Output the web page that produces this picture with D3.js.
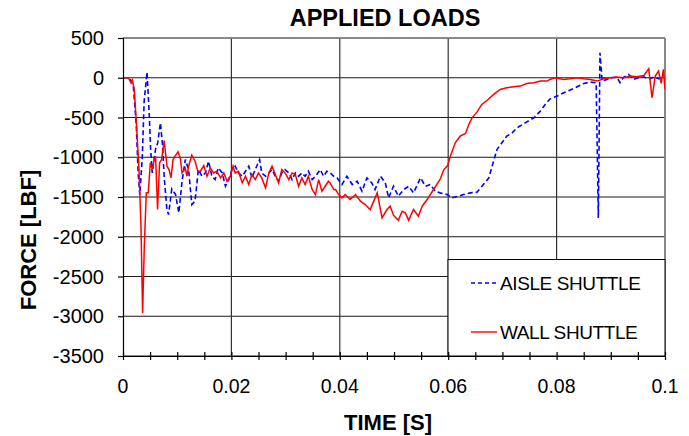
<!DOCTYPE html>
<html>
<head>
<meta charset="utf-8">
<script src="https://cdn.jsdelivr.net/npm/d3@7"></script>
<style>
  html, body { margin: 0; padding: 0; background: #fff; }
  svg { display: block; font-family: Arial, "Liberation Sans", sans-serif; }
</style>
</head>
<body>
<svg id="chart" width="689" height="436"></svg>
<script>
// ---- Data (time in s, force in lbf) ----
const xTicks = [0, 0.02, 0.04, 0.06, 0.08, 0.1];
const xTickLabels = ["0", "0.02", "0.04", "0.06", "0.08", "0.1"];
const yTicks = [500, 0, -500, -1000, -1500, -2000, -2500, -3000, -3500];
const yTickLabels = ["500", "0", "-500", "-1000", "-1500", "-2000", "-2500", "-3000", "-3500"];
const seriesNames = ["AISLE SHUTTLE", "WALL SHUTTLE"];

const aisleTime = [0, 0.0012, 0.00135, 0.0019, 0.00245, 0.0028, 0.0031, 0.00356, 0.0039, 0.00443, 0.0048, 0.0051, 0.0054, 0.0060, 0.0064, 0.0069, 0.0073, 0.0076, 0.0081, 0.0084, 0.0090, 0.0097, 0.0103, 0.0109, 0.0115, 0.0121, 0.0127, 0.0133, 0.0139, 0.0146, 0.0152, 0.0158, 0.0164, 0.0170, 0.0176, 0.0183, 0.0189, 0.0195, 0.0201, 0.0207, 0.0213, 0.0220, 0.0226, 0.0232, 0.0238, 0.0244, 0.0252, 0.0256, 0.0263, 0.0269, 0.0275, 0.0281, 0.0287, 0.0293, 0.0299, 0.0306, 0.0312, 0.0318, 0.0324, 0.0330, 0.0336, 0.0342, 0.0349, 0.0355, 0.0364, 0.0370, 0.0376, 0.0382, 0.0389, 0.0395, 0.0404, 0.0413, 0.0423, 0.0432, 0.0441, 0.0450, 0.0459, 0.0465, 0.0475, 0.0484, 0.0490, 0.0499, 0.0508, 0.0518, 0.0527, 0.0536, 0.0549, 0.0558, 0.0567, 0.0576, 0.0585, 0.0598, 0.0607, 0.0619, 0.0628, 0.0641, 0.0653, 0.0665, 0.0675, 0.0681, 0.0690, 0.0699, 0.0708, 0.0718, 0.0727, 0.0742, 0.0758, 0.0770, 0.0779, 0.0788, 0.0801, 0.0813, 0.0825, 0.0838, 0.0850, 0.0862, 0.0873, 0.0877, 0.0880, 0.0884, 0.0893, 0.0902, 0.0911, 0.0917, 0.0924, 0.0933, 0.0942, 0.0951, 0.0961, 0.0970, 0.0979, 0.0988, 0.1000];
const aisleForce = [0, 0, -20, -100, -600, -1200, -1470, -1000, -300, 70, -400, -900, -1196, -900, -820, -567, -850, -1250, -1658, -1721, -1400, -1470, -1700, -1300, -1029, -1155, -1595, -1550, -1155, -1240, -1197, -1050, -1240, -1280, -1134, -1197, -1365, -1281, -1155, -1113, -1197, -1239, -1176, -1113, -1260, -1155, -1029, -1197, -1239, -1197, -1155, -1239, -1302, -1197, -1155, -1197, -1281, -1197, -1239, -1197, -1239, -1176, -1281, -1239, -1155, -1239, -1176, -1196, -1239, -1260, -1343, -1239, -1343, -1302, -1427, -1260, -1323, -1406, -1239, -1323, -1511, -1365, -1490, -1406, -1365, -1448, -1259, -1365, -1343, -1427, -1448, -1469, -1511, -1490, -1469, -1448, -1440, -1343, -1259, -1113, -903, -818, -735, -693, -630, -567, -504, -420, -336, -265, -231, -189, -155, -113, -72, -55, -63, -1763, 315, -42, -21, 0, 8, -63, 8, 42, -21, 0, 13, -21, 8, -13, 0];

const wallTime = [0, 0.00098, 0.00148, 0.00172, 0.00208, 0.00251, 0.00295, 0.00332, 0.00362, 0.00393, 0.00430, 0.00467, 0.00504, 0.00541, 0.00577, 0.00601, 0.00638, 0.00675, 0.00712, 0.0076, 0.00812, 0.00849, 0.00886, 0.00923, 0.00959, 0.01015, 0.01057, 0.01089, 0.0115, 0.0118, 0.0121, 0.0127, 0.0133, 0.0138, 0.0143, 0.0149, 0.0155, 0.0161, 0.0167, 0.0173, 0.0180, 0.0186, 0.0192, 0.0198, 0.0203, 0.0207, 0.0213, 0.0220, 0.0226, 0.0232, 0.0238, 0.0244, 0.0250, 0.0256, 0.0263, 0.0269, 0.0275, 0.0281, 0.0287, 0.0293, 0.0299, 0.0306, 0.0312, 0.0318, 0.0324, 0.0330, 0.0336, 0.0342, 0.0349, 0.0355, 0.0361, 0.0367, 0.0373, 0.0379, 0.0382, 0.0389, 0.0392, 0.0398, 0.0401, 0.0404, 0.0410, 0.0419, 0.0429, 0.0438, 0.0447, 0.0456, 0.0469, 0.0478, 0.0487, 0.0493, 0.0499, 0.0508, 0.0515, 0.0521, 0.0527, 0.0536, 0.0545, 0.0552, 0.0561, 0.0573, 0.0585, 0.0592, 0.0599, 0.0604, 0.0613, 0.0622, 0.0632, 0.0638, 0.0644, 0.0653, 0.0662, 0.0672, 0.0684, 0.0696, 0.0708, 0.0721, 0.0733, 0.0745, 0.0758, 0.0770, 0.0782, 0.0788, 0.0797, 0.0813, 0.0825, 0.0838, 0.0850, 0.0862, 0.0875, 0.0887, 0.0899, 0.0911, 0.0924, 0.0936, 0.0948, 0.0961, 0.0970, 0.0976, 0.0982, 0.0988, 0.0993, 0.0997, 0.1000];
const wallForce = [0, 0, -63, -30, -147, -610, -1155, -1868, -2960, -2120, -1445, -1445, -1070, -1155, -1029, -987, -1658, -1070, -1029, -790, -1113, -1155, -1259, -1029, -990, -932, -1007, -1196, -1140, -1239, -1113, -974, -1050, -1176, -1176, -1104, -1239, -1134, -1197, -1176, -1260, -1197, -1302, -1239, -1113, -1197, -1176, -1322, -1239, -1344, -1218, -1281, -1197, -1260, -1385, -1197, -1113, -1218, -1323, -1155, -1197, -1281, -1197, -1218, -1365, -1260, -1344, -1239, -1406, -1469, -1281, -1427, -1365, -1302, -1322, -1406, -1406, -1469, -1490, -1511, -1469, -1532, -1469, -1553, -1595, -1658, -1448, -1763, -1658, -1616, -1729, -1793, -1680, -1700, -1793, -1658, -1742, -1616, -1532, -1406, -1280, -1155, -1104, -987, -818, -735, -700, -588, -504, -433, -336, -283, -210, -147, -126, -113, -105, -72, -63, -42, -42, -21, 0, -21, -13, 0, -13, -21, -42, -13, 0, 8, 0, 21, 13, 29, 113, -252, 21, 84, -70, 105, -147];

// ---- Layout ----
const svg = d3.select("#chart");
const plot = { left: 123, right: 665, top: 38, bottom: 356 };
const x = d3.scaleLinear().domain([0, 0.1]).range([plot.left, plot.right]);
const y = d3.scaleLinear().domain([-3500, 500]).range([plot.bottom, plot.top]);

// gridlines
const grid = svg.append("g");
grid.selectAll("line.h").data(yTicks).enter().append("line")
  .attr("x1", plot.left).attr("x2", plot.right)
  .attr("y1", d => y(d)).attr("y2", d => y(d))
  .attr("stroke", "#1a1a1a").attr("stroke-width", 1.2);
grid.selectAll("line.v").data(xTicks.slice(1)).enter().append("line")
  .attr("x1", d => x(d)).attr("x2", d => x(d))
  .attr("y1", plot.top).attr("y2", plot.bottom)
  .attr("stroke", "#333").attr("stroke-width", 1.2);
// top & right border (gray)
svg.append("line").attr("x1", plot.left).attr("x2", plot.right).attr("y1", plot.top).attr("y2", plot.top)
  .attr("stroke", "#888").attr("stroke-width", 1.5);
svg.append("line").attr("x1", plot.right).attr("x2", plot.right).attr("y1", plot.top).attr("y2", plot.bottom)
  .attr("stroke", "#888").attr("stroke-width", 1.5);

// clip
svg.append("clipPath").attr("id", "clip").append("rect")
  .attr("x", plot.left).attr("y", plot.top - 2).attr("width", plot.right - plot.left).attr("height", plot.bottom - plot.top + 2);

const line = d3.line().x(d => x(d[0])).y(d => y(d[1]));
const aisle = aisleTime.map((t, i) => [t, aisleForce[i]]);
const wall = wallTime.map((t, i) => [t, wallForce[i]]);

const lines = svg.append("g").attr("clip-path", "url(#clip)");
lines.append("path").datum(aisle).attr("d", line)
  .attr("fill", "none").attr("stroke", "#0000ff").attr("stroke-width", 1.6)
  .attr("stroke-dasharray", "5,3");
lines.append("path").datum(wall).attr("d", line)
  .attr("fill", "none").attr("stroke", "#ff0000").attr("stroke-width", 1.5);

// legend
const lg = svg.append("g");
lg.append("rect").attr("x", 448).attr("y", 259.5).attr("width", 217).attr("height", 96.5)
  .attr("fill", "#fff").attr("stroke", "#000").attr("stroke-width", 1);
const legendItems = [
  { name: seriesNames[0], color: "#0000ff", dash: "4,3", cy: 283 },
  { name: seriesNames[1], color: "#ff0000", dash: null, cy: 332 }
];
legendItems.forEach(it => {
  lg.append("line").attr("x1", 471).attr("x2", 497).attr("y1", it.cy).attr("y2", it.cy)
    .attr("stroke", it.color).attr("stroke-width", 1.4)
    .attr("stroke-dasharray", it.dash);
  lg.append("text").attr("x", 500).attr("y", it.cy + 7).text(it.name)
    .attr("font-size", 19).attr("letter-spacing", -0.4).attr("fill", "#000");
});

// axes
const xAxis = d3.axisBottom(x).tickValues(d3.range(0, 0.1001, 0.005)).tickSize(0).tickFormat("");
const gx = svg.append("g").attr("transform", `translate(0,${plot.bottom})`).call(xAxis);
gx.select(".domain").attr("stroke", "#000").attr("stroke-width", 1.2);
gx.selectAll(".tick line").attr("y1", -4).attr("y2", 4).attr("stroke", "#000").attr("stroke-width", 1.2);
svg.selectAll("text.xl").data(xTicks).enter().append("text")
  .attr("x", d => x(d)).attr("y", 393).attr("text-anchor", "middle")
  .attr("font-size", 19.5).text((d, i) => xTickLabels[i]);

const yAxis = d3.axisLeft(y).tickValues(yTicks).tickSize(5).tickFormat("");
const gy = svg.append("g").attr("transform", `translate(${plot.left},0)`).call(yAxis);
gy.select(".domain").attr("stroke", "#000").attr("stroke-width", 1.2);
gy.selectAll(".tick line").attr("stroke", "#000").attr("stroke-width", 1.2);
svg.selectAll("text.yl").data(yTicks).enter().append("text")
  .attr("x", 104).attr("y", d => y(d) + 7).attr("text-anchor", "end")
  .attr("font-size", 20).text((d, i) => yTickLabels[i]);

// titles
svg.append("text").attr("x", 385).attr("y", 26).attr("text-anchor", "middle")
  .attr("font-size", 23.5).attr("font-weight", "bold").text("APPLIED LOADS");
svg.append("text").attr("x", 388).attr("y", 430).attr("text-anchor", "middle")
  .attr("font-size", 22).attr("font-weight", "bold").text("TIME [S]");
svg.append("text").attr("transform", "translate(36,240) rotate(-90)").attr("text-anchor", "middle")
  .attr("font-size", 22).attr("font-weight", "bold").text("FORCE [LBF]");
</script>
</body>
</html>
